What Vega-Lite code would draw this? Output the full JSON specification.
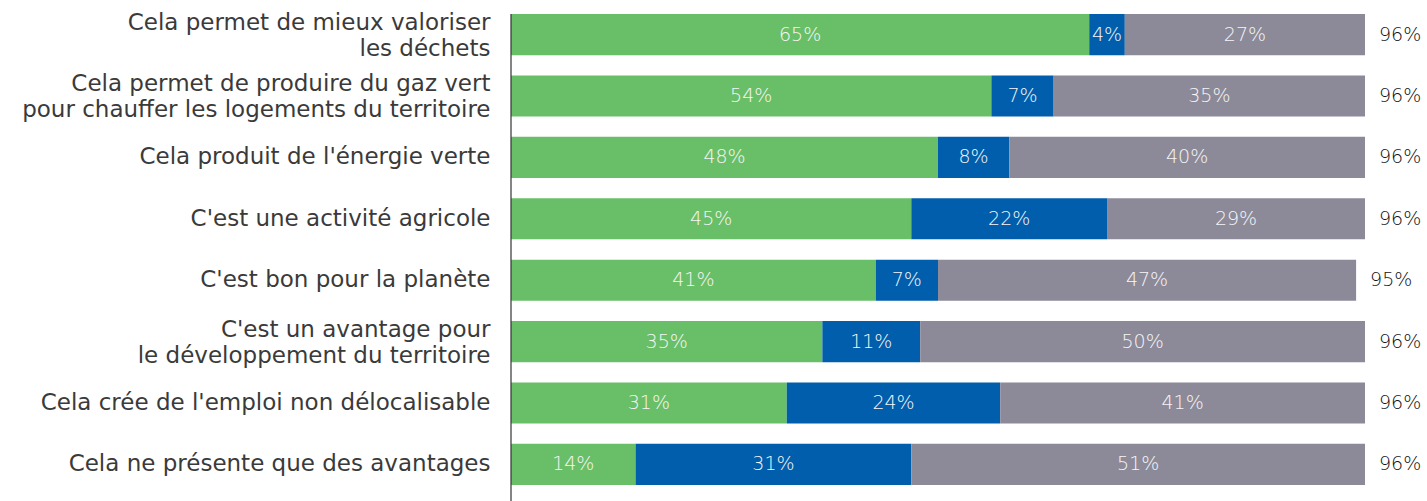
{
  "$schema": "https://vega.github.io/schema/vega-lite/v6.json",
  "autosize": "none",
  "width": 854,
  "height": 487,
  "padding": {"left": 511, "top": 14, "right": 62, "bottom": 0},
  "background": "white",
  "config": {"view": {"stroke": null}, "font": "DejaVu Sans"},
  "data": {"values": [
    {"q": "Cela permet de mieux valoriser|les déchets", "k": "a", "o": 1, "v": 65},
    {"q": "Cela permet de mieux valoriser|les déchets", "k": "b", "o": 2, "v": 4},
    {"q": "Cela permet de mieux valoriser|les déchets", "k": "c", "o": 3, "v": 27},
    {"q": "Cela permet de produire du gaz vert|pour chauffer les logements du territoire", "k": "a", "o": 1, "v": 54},
    {"q": "Cela permet de produire du gaz vert|pour chauffer les logements du territoire", "k": "b", "o": 2, "v": 7},
    {"q": "Cela permet de produire du gaz vert|pour chauffer les logements du territoire", "k": "c", "o": 3, "v": 35},
    {"q": "Cela produit de l'énergie verte", "k": "a", "o": 1, "v": 48},
    {"q": "Cela produit de l'énergie verte", "k": "b", "o": 2, "v": 8},
    {"q": "Cela produit de l'énergie verte", "k": "c", "o": 3, "v": 40},
    {"q": "C'est une activité agricole", "k": "a", "o": 1, "v": 45},
    {"q": "C'est une activité agricole", "k": "b", "o": 2, "v": 22},
    {"q": "C'est une activité agricole", "k": "c", "o": 3, "v": 29},
    {"q": "C'est bon pour la planète", "k": "a", "o": 1, "v": 41},
    {"q": "C'est bon pour la planète", "k": "b", "o": 2, "v": 7},
    {"q": "C'est bon pour la planète", "k": "c", "o": 3, "v": 47},
    {"q": "C'est un avantage pour|le développement du territoire", "k": "a", "o": 1, "v": 35},
    {"q": "C'est un avantage pour|le développement du territoire", "k": "b", "o": 2, "v": 11},
    {"q": "C'est un avantage pour|le développement du territoire", "k": "c", "o": 3, "v": 50},
    {"q": "Cela crée de l'emploi non délocalisable", "k": "a", "o": 1, "v": 31},
    {"q": "Cela crée de l'emploi non délocalisable", "k": "b", "o": 2, "v": 24},
    {"q": "Cela crée de l'emploi non délocalisable", "k": "c", "o": 3, "v": 41},
    {"q": "Cela ne présente que des avantages", "k": "a", "o": 1, "v": 14},
    {"q": "Cela ne présente que des avantages", "k": "b", "o": 2, "v": 31},
    {"q": "Cela ne présente que des avantages", "k": "c", "o": 3, "v": 51}
  ]},
  "encoding": {
    "y": {
      "field": "q", "type": "nominal", "sort": null, "title": null,
      "scale": {"range": [0, 471], "paddingInner": 0.33, "paddingOuter": 0},
      "axis": {
        "labelExpr": "split(datum.label, '|')",
        "labelFontSize": 23, "labelFont": "DejaVu Sans", "labelFontWeight": "normal", "labelColor": "#3a3a3a",
        "labelPadding": 21, "labelLineHeight": 26, "labelLimit": 520,
        "labelOffset": {"condition": {"test": "indexof(datum.label, '|') >= 0", "value": -12}, "value": 0},
        "ticks": false, "domain": false
      }
    }
  },
  "layer": [
    {
      "transform": [
        {"stack": "v", "groupby": ["q"], "sort": [{"field": "o"}], "as": ["x0", "x1"]},
        {"calculate": "(datum.x0 + datum.x1) / 2", "as": "xm"},
        {"calculate": "datum.v + '%'", "as": "vl"}
      ],
      "layer": [
        {
          "mark": {"type": "bar"},
          "encoding": {
            "x": {"field": "x0", "type": "quantitative", "scale": {"domain": [0, 96], "nice": false}, "axis": null},
            "x2": {"field": "x1"},
            "color": {"field": "k", "type": "nominal", "legend": null,
              "scale": {"domain": ["a", "b", "c"], "range": ["#69BF67", "#005EAC", "#8C8A99"]}}
          }
        },
        {
          "mark": {"type": "text", "fontSize": 19, "fontWeight": 200, "color": "#F6F6F6", "font": "DejaVu Sans", "baseline": "middle", "align": "center"},
          "encoding": {
            "x": {"field": "xm", "type": "quantitative"},
            "text": {"field": "vl"},
            "detail": {"field": "k"}
          }
        }
      ]
    },
    {
      "transform": [
        {"aggregate": [{"op": "sum", "field": "v", "as": "t"}], "groupby": ["q"]},
        {"calculate": "datum.t + '%'", "as": "tl"}
      ],
      "mark": {"type": "text", "fontSize": 19, "fontWeight": 200, "color": "#111111", "font": "DejaVu Sans", "baseline": "middle", "align": "left", "dx": 14},
      "encoding": {
        "x": {"field": "t", "type": "quantitative"},
        "text": {"field": "tl"}
      }
    },
    {
      "data": {"values": [{"z": 0}]},
      "mark": {"type": "rule", "color": "#333333", "strokeWidth": 1.2},
      "encoding": {
        "x": {"field": "z", "type": "quantitative"},
        "y": null
      }
    }
  ]
}
